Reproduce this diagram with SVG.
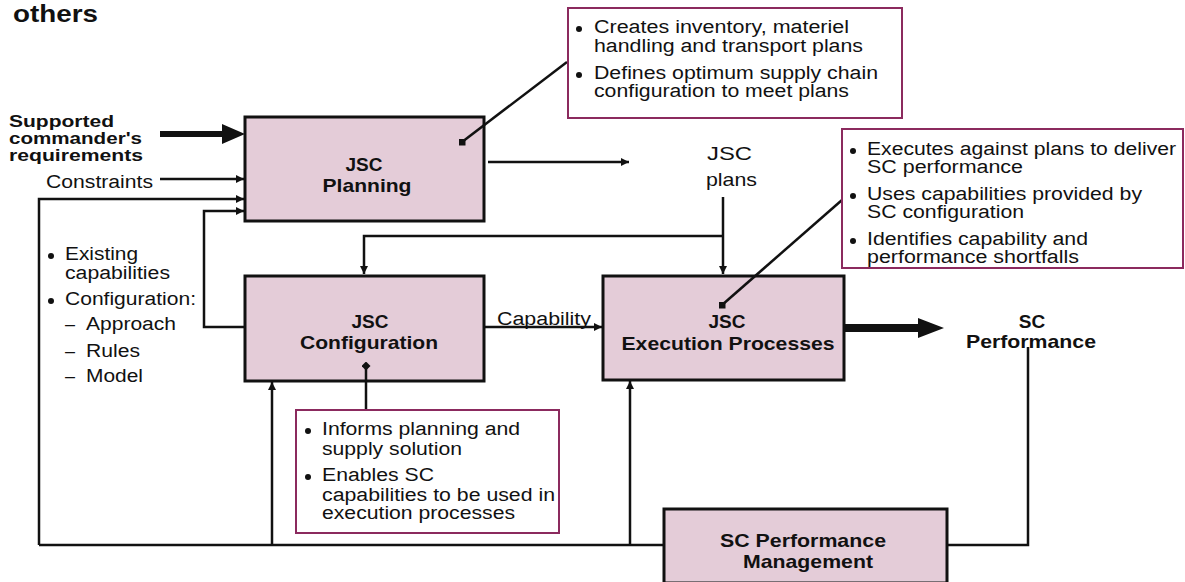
<svg xmlns="http://www.w3.org/2000/svg" width="1185" height="582" viewBox="0 0 1185 582">
<style>
.box{fill:#E4CCD8;stroke:#111;stroke-width:3}
.call{fill:#fff;stroke:#8B2A5E;stroke-width:2}
.ln{fill:none;stroke:#111;stroke-width:2.5}
.b{font-family:"Liberation Sans",Arial,sans-serif;font-weight:bold;fill:#111}
.r{font-family:"Liberation Sans",Arial,sans-serif;fill:#111}
.n{font-family:"Liberation Sans",Arial,sans-serif;fill:#111;font-size:18px}
.dot{fill:#111}
</style>
<defs>
<marker id="ah" viewBox="0 0 10 10" refX="10" refY="5" markerWidth="10" markerHeight="8" markerUnits="userSpaceOnUse" orient="auto"><path d="M0,0 L10,5 L0,10 Z" fill="#111"/></marker>
<marker id="sq" viewBox="0 0 10 10" refX="5" refY="5" markerWidth="7" markerHeight="7" markerUnits="userSpaceOnUse"><rect width="10" height="10" fill="#111"/></marker>
<marker id="dm" viewBox="0 0 10 10" refX="5" refY="5" markerWidth="9" markerHeight="9" markerUnits="userSpaceOnUse"><path d="M5,0 L10,5 L5,10 L0,5 Z" fill="#111"/></marker>
</defs>
<rect width="1185" height="582" fill="#fff"/>
<text class="b" x="13" y="22" font-size="24" textLength="85" lengthAdjust="spacingAndGlyphs">others</text>

<g id="inputs">
<text class="b" font-size="17" x="9" y="127" textLength="105" lengthAdjust="spacingAndGlyphs">Supported</text>
<text class="b" font-size="17" x="9" y="144" textLength="133" lengthAdjust="spacingAndGlyphs">commander's</text>
<text class="b" font-size="17" x="9" y="161" textLength="134" lengthAdjust="spacingAndGlyphs">requirements</text>
<text class="r" font-size="18" x="46" y="188" textLength="107" lengthAdjust="spacingAndGlyphs">Constraints</text>
</g>

<g id="left-list">
<circle class="dot" cx="51" cy="256" r="3"/>
<text class="n" x="65" y="260" textLength="73" lengthAdjust="spacingAndGlyphs">Existing</text>
<text class="n" x="65" y="279" textLength="105" lengthAdjust="spacingAndGlyphs">capabilities</text>
<circle class="dot" cx="51" cy="301" r="3"/>
<text class="n" x="65" y="305" textLength="131" lengthAdjust="spacingAndGlyphs">Configuration:</text>
<text class="n" x="65" y="330">–</text>
<text class="n" x="86" y="330" textLength="90" lengthAdjust="spacingAndGlyphs">Approach</text>
<text class="n" x="65" y="357">–</text>
<text class="n" x="86" y="357" textLength="54" lengthAdjust="spacingAndGlyphs">Rules</text>
<text class="n" x="65" y="382">–</text>
<text class="n" x="86" y="382" textLength="57" lengthAdjust="spacingAndGlyphs">Model</text>
</g>

<g id="connectors">
<polygon points="160,131 222,131 222,124 245,134 222,144 222,137 160,137" fill="#111"/>
<line class="ln" x1="160" y1="179" x2="244" y2="179" marker-end="url(#ah)"/>
<polyline class="ln" points="39,545 39,199 244,199" marker-end="url(#ah)"/>
<polyline class="ln" points="245,327 204,327 204,211 244,211" marker-end="url(#ah)"/>
<line class="ln" x1="488" y1="162" x2="629" y2="162" marker-end="url(#ah)"/>
<line class="ln" x1="723" y1="197" x2="723" y2="274" marker-end="url(#ah)"/>
<polyline class="ln" points="723,236 364,236 364,274" marker-end="url(#ah)"/>
<line class="ln" x1="484" y1="327" x2="602" y2="327" marker-end="url(#ah)"/>
<polygon points="844,324 918,324 918,318 944,328 918,338 918,332 844,332" fill="#111"/>
<polyline class="ln" points="39,545 664,545"/>
<line class="ln" x1="272" y1="545" x2="272" y2="382" marker-end="url(#ah)"/>
<line class="ln" x1="630" y1="545" x2="630" y2="381" marker-end="url(#ah)"/>
<polyline class="ln" points="947,545 1028,545 1028,347"/>
<text class="r" font-size="18" x="497" y="325" textLength="94" lengthAdjust="spacingAndGlyphs">Capability</text>
<text class="r" font-size="19" x="707" y="160" textLength="45" lengthAdjust="spacingAndGlyphs">JSC</text>
<text class="r" font-size="19" x="706" y="186" textLength="51" lengthAdjust="spacingAndGlyphs">plans</text>
</g>

<g id="jsc-planning">
<rect class="box" x="245" y="117" width="239" height="104"/>
<text class="b" font-size="19" x="364" y="171" text-anchor="middle">JSC</text>
<text class="b" font-size="19" x="367" y="192" text-anchor="middle" textLength="89" lengthAdjust="spacingAndGlyphs">Planning</text>
</g>

<g id="jsc-configuration">
<rect class="box" x="245" y="276" width="239" height="105"/>
<text class="b" font-size="19" x="370" y="328" text-anchor="middle">JSC</text>
<text class="b" font-size="19" x="369" y="349" text-anchor="middle" textLength="138" lengthAdjust="spacingAndGlyphs">Configuration</text>
</g>

<g id="jsc-execution">
<rect class="box" x="603" y="276" width="241" height="104"/>
<text class="b" font-size="19" x="727" y="328" text-anchor="middle">JSC</text>
<text class="b" font-size="19" x="728" y="350" text-anchor="middle" textLength="213" lengthAdjust="spacingAndGlyphs">Execution Processes</text>
</g>

<g id="sc-performance">
<text class="b" font-size="19" x="1032" y="328" text-anchor="middle">SC</text>
<text class="b" font-size="19" x="1031" y="348" text-anchor="middle" textLength="130" lengthAdjust="spacingAndGlyphs">Performance</text>
</g>

<g id="sc-performance-management">
<rect class="box" x="664" y="509" width="283" height="74"/>
<text class="b" font-size="19" x="803" y="547" text-anchor="middle" textLength="166" lengthAdjust="spacingAndGlyphs">SC Performance</text>
<text class="b" font-size="19" x="808" y="568" text-anchor="middle" textLength="130" lengthAdjust="spacingAndGlyphs">Management</text>
</g>

<g id="leaders">
<line class="ln" x1="567" y1="62" x2="462" y2="142" marker-end="url(#sq)"/>
<line class="ln" x1="842" y1="200" x2="722" y2="305" marker-end="url(#sq)"/>
<line class="ln" x1="366" y1="410" x2="366" y2="366" marker-end="url(#dm)"/>
</g>

<g id="callout-planning">
<rect class="call" x="568" y="8" width="334" height="110"/>
<circle class="dot" cx="579" cy="29" r="3"/>
<text class="n" x="594" y="33" textLength="255" lengthAdjust="spacingAndGlyphs">Creates inventory, materiel</text>
<text class="n" x="594" y="52" textLength="269" lengthAdjust="spacingAndGlyphs">handling and transport plans</text>
<circle class="dot" cx="579" cy="75" r="3"/>
<text class="n" x="594" y="79" textLength="284" lengthAdjust="spacingAndGlyphs">Defines optimum supply chain</text>
<text class="n" x="594" y="97" textLength="255" lengthAdjust="spacingAndGlyphs">configuration to meet plans</text>
</g>

<g id="callout-execution">
<rect class="call" x="842" y="129" width="341" height="139"/>
<circle class="dot" cx="853" cy="151" r="3"/>
<text class="n" x="867" y="155" textLength="309" lengthAdjust="spacingAndGlyphs">Executes against plans to deliver</text>
<text class="n" x="867" y="173" textLength="156" lengthAdjust="spacingAndGlyphs">SC performance</text>
<circle class="dot" cx="853" cy="196" r="3"/>
<text class="n" x="867" y="200" textLength="275" lengthAdjust="spacingAndGlyphs">Uses capabilities provided by</text>
<text class="n" x="867" y="218" textLength="157" lengthAdjust="spacingAndGlyphs">SC configuration</text>
<circle class="dot" cx="853" cy="241" r="3"/>
<text class="n" x="867" y="245" textLength="221" lengthAdjust="spacingAndGlyphs">Identifies capability and</text>
<text class="n" x="867" y="263" textLength="212" lengthAdjust="spacingAndGlyphs">performance shortfalls</text>
</g>

<g id="callout-configuration">
<rect class="call" x="296" y="410" width="263" height="123"/>
<circle class="dot" cx="308" cy="431" r="3"/>
<text class="n" x="322" y="435" textLength="198" lengthAdjust="spacingAndGlyphs">Informs planning and</text>
<text class="n" x="322" y="455" textLength="140" lengthAdjust="spacingAndGlyphs">supply solution</text>
<circle class="dot" cx="308" cy="477" r="3"/>
<text class="n" x="322" y="481" textLength="112" lengthAdjust="spacingAndGlyphs">Enables SC</text>
<text class="n" x="322" y="501" textLength="233" lengthAdjust="spacingAndGlyphs">capabilities to be used in</text>
<text class="n" x="322" y="519" textLength="193" lengthAdjust="spacingAndGlyphs">execution processes</text>
</g>
</svg>
